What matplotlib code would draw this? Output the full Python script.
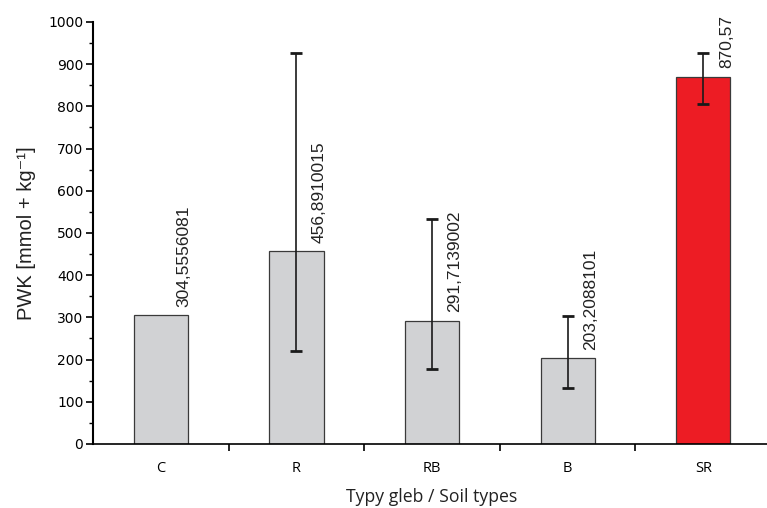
import matplotlib.pyplot as plt
import numpy as np
from matplotlib.ticker import MultipleLocator

# średnie PWK dla typów gleb
categories = ["C", "R", "RB", "B", "SR"]
means = [304.5556081, 456.8910015, 291.7139002, 203.2088101, 870.57]
value_labels = ["304,5556081", "456,8910015", "291,7139002", "203,2088101", "870,57"]
# dolne / górne granice słupków błędu (C bez błędu)
err_low = [np.nan, 220, 177, 133, 806]
err_high = [np.nan, 927, 533, 303, 927]

colors = ["#d1d2d4", "#d1d2d4", "#d1d2d4", "#d1d2d4", "#ed1c24"]

fig = plt.figure(figsize=(7.67, 5.08), dpi=100)
ax = fig.add_axes([0.1213, 0.126, 0.884, 0.8307])

x = np.arange(len(categories))
ax.bar(x, means, width=0.4, color=colors, edgecolor="#3a3a3a", linewidth=0.9, zorder=2)

m = np.array(means)
lo = m - np.array(err_low)
hi = np.array(err_high) - m
idx = ~np.isnan(lo)
ax.errorbar(x[idx], m[idx], yerr=[lo[idx], hi[idx]], fmt="none",
            ecolor="#1a1a1a", elinewidth=1.2, capsize=4.5, capthick=2, zorder=3)

for xi, v, txt in zip(x, means, value_labels):
    ax.text(xi + 0.17, v + 20, txt, rotation=90, ha="center", va="bottom",
            fontsize=12.5, family="Liberation Sans", color="#222222")

ax.set_xlim(-0.5, 4.5)
ax.set_ylim(0, 1000)
ax.yaxis.set_major_locator(MultipleLocator(100))
ax.yaxis.set_minor_locator(MultipleLocator(50))
# kreski między kategoriami, podpisy na środku słupków
ax.set_xticks(x[:-1] + 0.5)
ax.set_xticklabels([])
ax.set_xticks(x, minor=True)
ax.set_xticklabels(categories, minor=True, family="Open Sans", fontsize=10.5)
ax.tick_params(axis="x", which="minor", length=0, pad=12)
ax.tick_params(axis="x", which="major", length=5, width=1.2, direction="out")
ax.tick_params(axis="y", which="major", length=5, width=1.2, direction="out",
               labelsize=10, pad=2)
ax.tick_params(axis="y", which="minor", length=3, width=1.0, direction="out")
for lab in ax.get_yticklabels():
    lab.set_family("DejaVu Sans")

for s in ["top", "right"]:
    ax.spines[s].set_visible(False)
ax.spines["left"].set_linewidth(1.5)
ax.spines["bottom"].set_linewidth(1.2)

ax.set_ylabel("PWK [mmol + kg⁻¹]", fontsize=14.5,
              family=["Liberation Sans", "DejaVu Sans"],
              color="#222222", labelpad=9)
ax.set_xlabel("Typy gleb / Soil types", fontsize=12.7, family="Open Sans",
              color="#222222", labelpad=9)

fig.savefig("out.png", dpi=100)
